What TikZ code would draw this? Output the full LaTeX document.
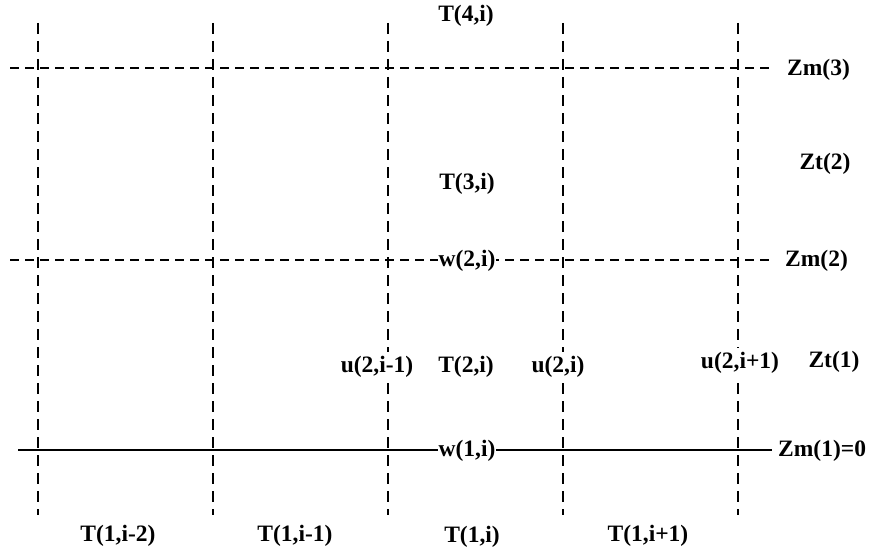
\documentclass[tikz,border=0pt]{standalone}
\usepackage{fontspec}
\setmainfont{Liberation Serif}
\tikzset{
  vline/.style={line width=2.6pt,dash pattern=on 11pt off 7pt},
  hline/.style={line width=2.6pt,dash pattern=on 9pt off 6pt},
  groundline/.style={line width=2.6pt},
  lbl/.style={font=\fontsize{23.5}{27}\selectfont\bfseries,inner xsep=1pt,inner ysep=4pt},
  onlbl/.style={lbl,fill=white}
}

\begin{document}
\begin{tikzpicture}[x=1pt,y=-1pt]
  \useasboundingbox (0,0) rectangle (873,551);
  % vertical cell faces
  \foreach \k/\x in {a/38,b/213,c/388,d/563,e/738}{
    \coordinate (v\k top) at (\x,23);
    \coordinate (v\k bot) at (\x,515);
    \draw[vline] (v\k top) -- (v\k bot);
  }
  % levels
  \coordinate (m3l) at (10,68);
  \coordinate (m3r) at (772,68);
  \coordinate (m2l) at (10,260);
  \coordinate (m2r) at (772,260);
  \coordinate (m1l) at (18,450);
  \coordinate (m1r) at (772,450);
  \draw[hline] (m3l) -- (m3r);
  \draw[hline] (m2l) -- (m2r);
  \draw[groundline] (m1l) -- (m1r);

  \node[lbl,anchor=west] (zm3) at (786,70) {Zm(3)};
  \node[lbl,anchor=west] (zm2) at (784,261) {Zm(2)};
  \node[lbl,anchor=west] (zm1) at (777,451) {Zm(1)=0};
  \node[lbl] (zt2) at (825,164) {Zt(2)};
  \node[lbl] (zt1) at (834,362) {Zt(1)};

  \node[lbl] (t4) at (466,16) {T(4,i)};
  \node[lbl] (t3) at (467,184) {T(3,i)};
  \node[onlbl] (w2) at (467,261) {w(2,i)};
  \node[onlbl] (um) at (377,367) {u(2,i-1)};
  \node[lbl] (t2) at (466,367) {T(2,i)};
  \node[onlbl] (u0) at (558,367) {u(2,i)};
  \node[onlbl] (up) at (740,363) {u(2,i+1)};
  \node[onlbl] (w1) at (467,451) {w(1,i)};

  \node[lbl] (t1mm) at (118,536) {T(1,i-2)};
  \node[lbl] (t1m) at (295,536) {T(1,i-1)};
  \node[lbl] (t1) at (472,537) {T(1,i)};
  \node[lbl] (t1p) at (648,536) {T(1,i+1)};
\end{tikzpicture}
\end{document}
